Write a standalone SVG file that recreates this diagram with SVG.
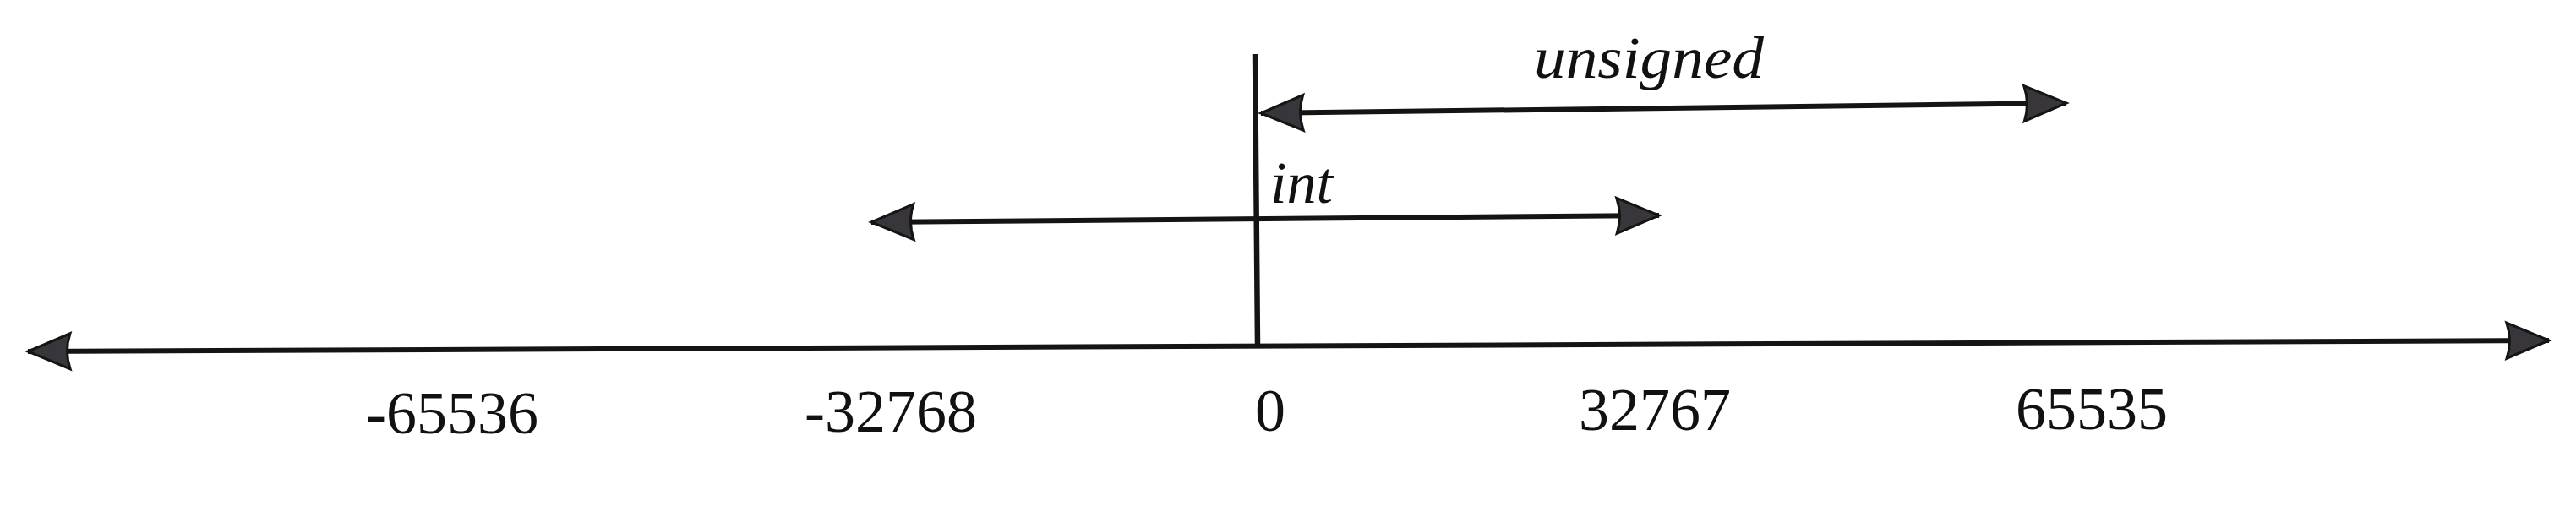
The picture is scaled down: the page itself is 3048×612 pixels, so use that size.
<svg xmlns="http://www.w3.org/2000/svg" width="3048" height="612" viewBox="0 0 3048 612">
  <style>
    .axis { stroke: #141414; stroke-width: 6; fill: none; stroke-linecap: butt; }
    .num { font-family: "Liberation Serif", "Times New Roman", serif; font-size: 72px; fill: #111; }
    .lbl { font-family: "Liberation Serif", "Times New Roman", serif; font-style: italic; font-size: 70px; fill: #111; }
  </style>
  <defs>
    <marker id="head" viewBox="-2 -2 54 46" refX="50" refY="21" markerWidth="54" markerHeight="46" markerUnits="userSpaceOnUse" orient="auto-start-reverse" overflow="visible">
      <path d="M0,0 L50,21 L0,42 Q7,21 0,0 Z" fill="#38363b" stroke="#141414" stroke-width="3" stroke-linejoin="miter"/>
    </marker>
  </defs>
  <rect width="3048" height="612" fill="#ffffff"/>
  <g id="connectors">
    <line id="zero-line" class="axis" x1="1485" y1="64" x2="1488" y2="408" style="stroke-width:6.5"/>
    <line id="number-line" class="axis" x1="33" y1="416" x2="3016" y2="403" marker-start="url(#head)" marker-end="url(#head)"/>
    <line id="int-range" class="axis" x1="1031" y1="263" x2="1963" y2="255" marker-start="url(#head)" marker-end="url(#head)"/>
    <line id="unsigned-range" class="axis" x1="1492" y1="134" x2="2445" y2="122" marker-start="url(#head)" marker-end="url(#head)"/>
  </g>
  <g id="label-unsigned"><text class="lbl" x="1815" y="92" textLength="272" lengthAdjust="spacingAndGlyphs">unsigned</text></g>
  <g id="label-int"><text class="lbl" x="1503" y="240" textLength="74" lengthAdjust="spacingAndGlyphs">int</text></g>
  <g id="tick-m65536"><text class="num" x="433" y="513">-65536</text></g>
  <g id="tick-m32768"><text class="num" x="952" y="511">-32768</text></g>
  <g id="tick-0"><text class="num" x="1485" y="510">0</text></g>
  <g id="tick-32767"><text class="num" x="1868" y="509">32767</text></g>
  <g id="tick-65535"><text class="num" x="2385" y="508">65535</text></g>
</svg>
